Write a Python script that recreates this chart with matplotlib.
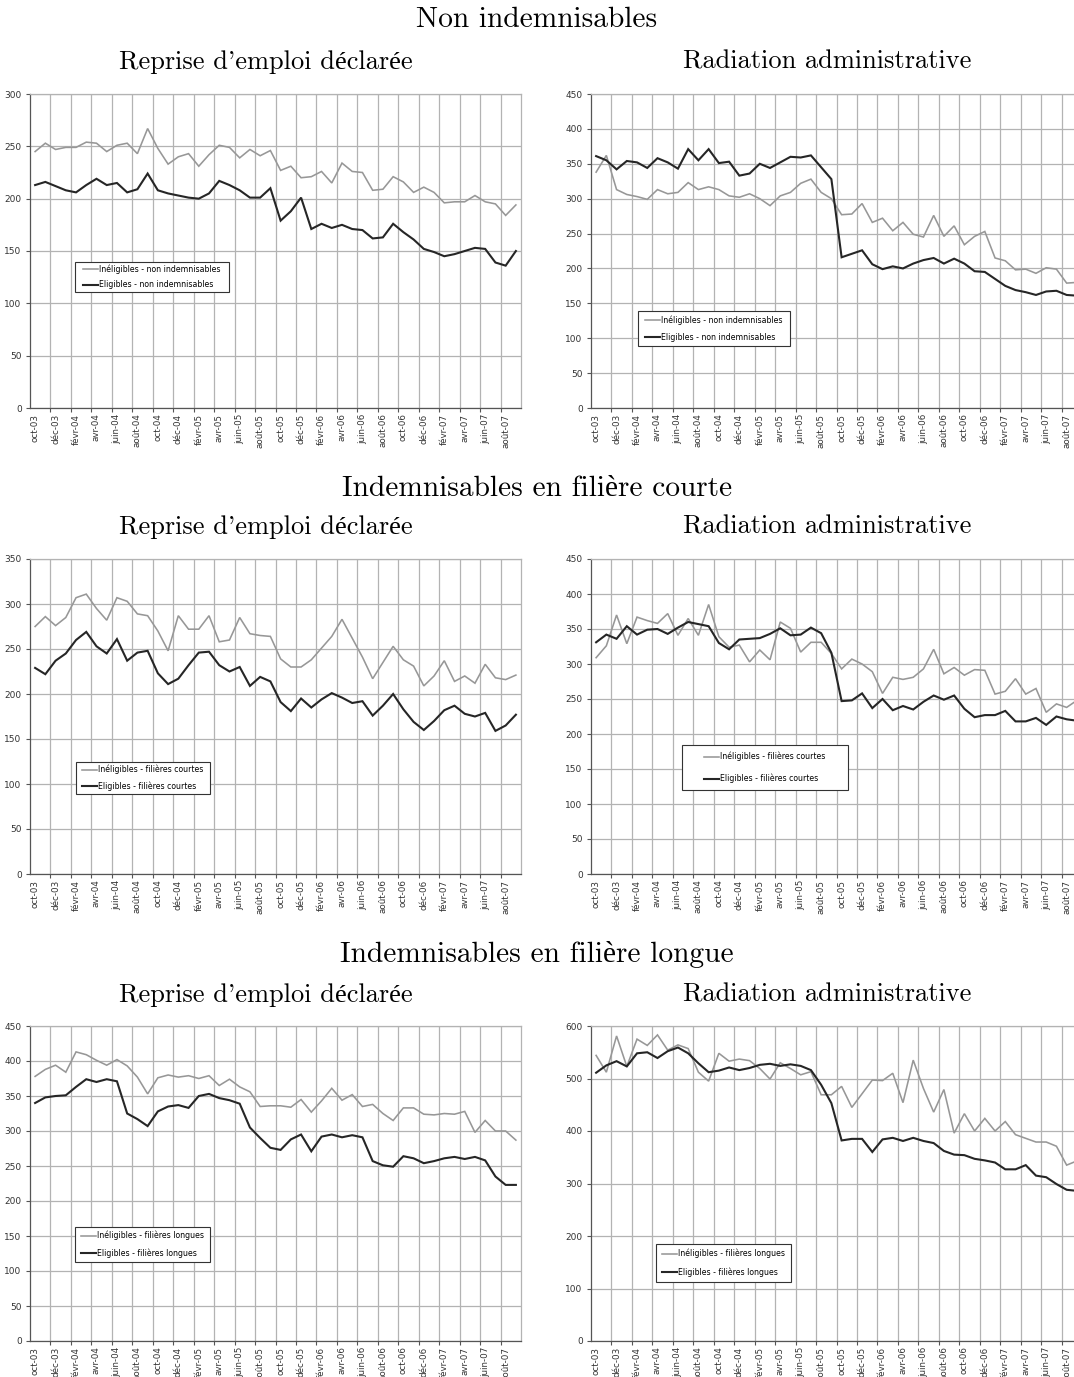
import numpy as np
import matplotlib
matplotlib.use("Agg")
import matplotlib.pyplot as plt
from matplotlib.patches import Rectangle

# monthly series, oct-03 .. sep-07 (48 months)
tick_labels = ["oct-03", "déc-03", "févr-04", "avr-04", "juin-04", "août-04",
               "oct-04", "déc-04", "févr-05", "avr-05", "juin-05", "août-05",
               "oct-05", "déc-05", "févr-06", "avr-06", "juin-06", "août-06",
               "oct-06", "déc-06", "févr-07", "avr-07", "juin-07", "août-07"]

# Non indemnisables - reprise d'emploi
ni_reprise_inel = [245, 253, 247, 249, 249, 254, 253, 245, 251, 253, 243, 267,
                   248, 233, 240, 243, 231, 242, 251, 249, 239, 247, 241, 246,
                   227, 231, 220, 221, 226, 215, 234, 226, 225, 208, 209, 221,
                   216, 206, 211, 206, 196, 197, 197, 203, 197, 195, 184, 194]
ni_reprise_elig = [213, 216, 212, 208, 206, 213, 219, 213, 215, 206, 209, 224,
                   208, 205, 203, 201, 200, 205, 217, 213, 208, 201, 201, 210,
                   179, 188, 201, 171, 176, 172, 175, 171, 170, 162, 163, 176,
                   168, 161, 152, 149, 145, 147, 150, 153, 152, 139, 136, 150]

# Non indemnisables - radiation
ni_radiation_inel = [338, 362, 313, 306, 303, 299, 313, 307, 309, 323, 313, 317,
                     313, 304, 302, 307, 300, 290, 304, 309, 322, 328, 309, 300,
                     277, 278, 293, 266, 272, 254, 266, 249, 245, 276, 246, 261,
                     234, 246, 253, 215, 211, 198, 199, 193, 201, 199, 179, 180]
ni_radiation_elig = [361, 355, 342, 354, 352, 344, 358, 352, 343, 371, 355, 371,
                     351, 353, 333, 336, 350, 344, 352, 360, 359, 362, 345, 328,
                     216, 221, 226, 206, 199, 203, 200, 207, 212, 215, 207, 214,
                     207, 196, 195, 185, 175, 169, 166, 162, 167, 168, 162, 161]

# Filiere courte - reprise d'emploi
fc_reprise_inel = [275, 286, 276, 285, 307, 311, 295, 282, 307, 303, 289, 287,
                   270, 248, 287, 272, 272, 287, 258, 260, 285, 267, 265, 264,
                   239, 230, 230, 238, 251, 264, 283, 262, 241, 217, 235, 253,
                   238, 231, 209, 220, 237, 214, 220, 212, 233, 218, 216, 221]
fc_reprise_elig = [229, 222, 237, 245, 260, 269, 253, 245, 261, 237, 246, 248,
                   223, 211, 217, 232, 246, 247, 232, 225, 230, 209, 219, 214,
                   191, 181, 195, 185, 194, 201, 196, 190, 192, 176, 187, 200,
                   183, 169, 160, 170, 182, 187, 178, 175, 179, 159, 165, 177]

# Filiere courte - radiation
fc_radiation_inel = [309, 326, 370, 329, 367, 362, 358, 372, 341, 365, 341, 385,
                     339, 324, 327, 303, 320, 306, 360, 351, 317, 331, 331, 315,
                     293, 307, 300, 289, 258, 281, 278, 281, 293, 321, 286, 295,
                     284, 292, 291, 257, 261, 279, 257, 265, 231, 243, 238, 248]
fc_radiation_elig = [331, 342, 336, 354, 342, 349, 350, 343, 352, 360, 357, 354,
                     330, 321, 335, 336, 337, 343, 351, 341, 342, 352, 344, 316,
                     247, 248, 258, 237, 250, 234, 240, 235, 246, 255, 249, 255,
                     236, 224, 227, 227, 233, 218, 218, 223, 213, 225, 221, 219]

# Filiere longue - reprise d'emploi
fl_reprise_inel = [378, 388, 394, 384, 413, 409, 401, 394, 402, 393, 377, 353,
                   376, 380, 377, 379, 375, 379, 365, 374, 363, 356, 335, 336,
                   336, 334, 345, 327, 343, 361, 344, 352, 335, 338, 325, 315,
                   333, 333, 324, 323, 325, 324, 328, 298, 315, 300, 300, 287]
fl_reprise_elig = [340, 348, 350, 351, 363, 374, 370, 374, 371, 325, 317, 307,
                   328, 335, 337, 333, 350, 353, 347, 344, 339, 305, 290, 276,
                   273, 288, 295, 271, 292, 295, 291, 294, 291, 257, 251, 249,
                   264, 261, 254, 257, 261, 263, 260, 263, 258, 235, 223, 223]

# Filiere longue - radiation
fl_radiation_inel = [544, 512, 581, 523, 575, 563, 583, 554, 564, 557, 512, 495,
                     548, 533, 537, 534, 519, 499, 530, 519, 507, 513, 469, 469,
                     485, 445, 471, 497, 496, 510, 454, 535, 481, 436, 479, 396,
                     433, 400, 424, 400, 418, 393, 386, 379, 379, 371, 335, 343]
fl_radiation_elig = [511, 525, 533, 523, 548, 550, 539, 552, 559, 548, 529, 512,
                     515, 521, 516, 520, 526, 528, 524, 527, 524, 516, 488, 453,
                     382, 385, 385, 360, 384, 387, 381, 387, 381, 377, 362, 355,
                     354, 347, 344, 340, 327, 327, 335, 315, 312, 299, 288, 286]

GRAY = "#979797"
DARK = "#262626"
GRID = "#b3b3b3"

W, H = 1074, 1377
fig = plt.figure(figsize=(W / 100, H / 100), dpi=100)

title_font = ["cmr10", "Liberation Serif"]
tick_font = ["Liberation Sans Narrow", "DejaVu Sans"]


def px_axes(x0, y0, x1, y1):
    return fig.add_axes([x0 / W, 1 - y1 / H, (x1 - x0) / W, (y1 - y0) / H])


def draw_panel(ax, inel, elig, ymax, names, box, spacing):
    x = np.arange(len(inel))
    ax.plot(x, inel, color=GRAY, lw=1.15, label=names[0], solid_joinstyle="miter")
    ax.plot(x, elig, color=DARK, lw=1.5, label=names[1], solid_joinstyle="miter")
    ax.set_xlim(-0.5, 47.5)
    ax.set_ylim(0, ymax)
    ax.set_yticks(np.arange(0, ymax + 1, 100 if ymax > 450 else 50))
    ax.set_xticks(np.arange(0, 48, 2))
    ax.set_xticklabels(tick_labels, rotation=90, family=tick_font, fontsize=6.3,
                       color="#333333")
    ax.set_xticks(np.arange(1.5, 47.5, 2), minor=True)
    ax.tick_params(axis="x", which="major", length=0, pad=4)
    ax.tick_params(axis="x", which="minor", length=3, color="#555555", width=0.8)
    ax.tick_params(axis="y", length=3, color="#555555", width=0.8, pad=3,
                   labelsize=6.5, labelcolor="#333333")
    for lab in ax.get_yticklabels():
        lab.set_family(tick_font)
    ax.grid(axis="y", color=GRID, lw=0.9)
    ax.grid(axis="x", which="minor", color=GRID, lw=0.9)
    ax.set_axisbelow(True)
    for side in ("left", "bottom"):
        ax.spines[side].set_color("#555555")
        ax.spines[side].set_linewidth(0.9)
    for side in ("top", "right"):
        ax.spines[side].set_color(GRID)
        ax.spines[side].set_linewidth(0.9)

    # legend box drawn by hand so its size can be set in pixels
    bx0, by0, bx1, by1 = box
    bounds = (bx0 / W, 1 - by1 / H, (bx1 - bx0) / W, (by1 - by0) / H)
    ax.add_patch(Rectangle(bounds[:2], bounds[2], bounds[3],
                           transform=fig.transFigure, facecolor="white",
                           edgecolor="#333333", lw=0.8, zorder=4.5,
                           clip_on=False))
    ax.legend(loc="center", bbox_to_anchor=bounds, bbox_transform=fig.transFigure,
              frameon=False, handlelength=1.9, handletextpad=0.15, borderpad=0,
              labelspacing=spacing, prop={"family": tick_font, "size": 5.6})


LX0, LX1 = 30, 521
RX0, RX1 = 591, 1082
rows = [(94, 408), (559, 874), (1026, 1341)]

panels = [
    (LX0, LX1, rows[0], ni_reprise_inel, ni_reprise_elig, 300,
     ("Inéligibles - non indemnisables", "Eligibles - non indemnisables"),
     (75, 262, 229, 292), 0.8),
    (RX0, RX1, rows[0], ni_radiation_inel, ni_radiation_elig, 450,
     ("Inéligibles - non indemnisables", "Eligibles - non indemnisables"),
     (638, 311, 790, 346), 1.05),
    (LX0, LX1, rows[1], fc_reprise_inel, fc_reprise_elig, 350,
     ("Inéligibles - filières courtes", "Eligibles - filières courtes"),
     (76, 762, 210, 794), 0.95),
    (RX0, RX1, rows[1], fc_radiation_inel, fc_radiation_elig, 450,
     ("Inéligibles - filières courtes", "Eligibles - filières courtes"),
     (682, 745, 848, 790), 1.6),
    (LX0, LX1, rows[2], fl_reprise_inel, fl_reprise_elig, 450,
     ("Inéligibles - filières longues", "Eligibles - filières longues"),
     (75, 1227, 210, 1262), 1.05),
    (RX0, RX1, rows[2], fl_radiation_inel, fl_radiation_elig, 600,
     ("Inéligibles - filières longues", "Eligibles - filières longues"),
     (656, 1244, 791, 1282), 1.2),
]

for x0, x1, (y0, y1), inel, elig, ymax, names, box, spacing in panels:
    ax = px_axes(x0, y0, x1, y1)
    draw_panel(ax, inel, elig, ymax, names, box, spacing)

# section and panel titles
sections = [("Non indemnisables", 20, 62),
            ("Indemnisables en filière courte", 489, 527),
            ("Indemnisables en filière longue", 955, 995)]
for title, ys, yp in sections:
    fig.text(537 / W, 1 - ys / H, title, ha="center", va="center",
             family=title_font, fontsize=21.2)
    fig.text(266 / W, 1 - yp / H, "Reprise d'emploi déclarée", ha="center",
             va="center", family=title_font, fontsize=19)
    fig.text(827 / W, 1 - yp / H, "Radiation administrative", ha="center",
             va="center", family=title_font, fontsize=19)

fig.savefig("out.png", dpi=100)
